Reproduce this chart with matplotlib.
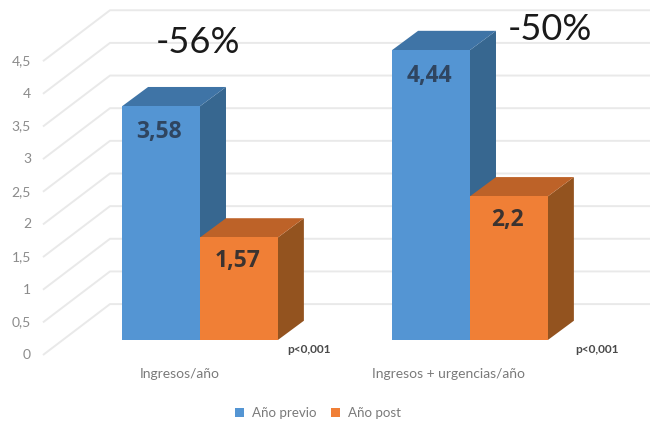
#!/usr/bin/env python3
# -*- coding: utf-8 -*-
import matplotlib
matplotlib.use('Agg')
import matplotlib.pyplot as plt
from matplotlib.patches import Polygon, Patch

plt.rcParams['font.family'] = ['Lato', 'DejaVu Sans']

# --- Data ---
categories = ['Ingresos/año', 'Ingresos + urgencias/año']
series_names = ['Año previo', 'Año post']
anio_previo = [3.58, 4.44]
anio_post = [1.57, 2.2]
value_labels = [['3,58', '4,44'], ['1,57', '2,2']]
changes = ['-56%', '-50%']
p_values = ['p<0,001', 'p<0,001']
y_ticks = [0, 0.5, 1, 1.5, 2, 2.5, 3, 3.5, 4, 4.5]
y_tick_labels = ['0', '0,5', '1', '1,5', '2', '2,5', '3', '3,5', '4', '4,5']

# --- Colours per series: front, top, side ---
colors = [('#5495d3', '#3f74a6', '#376790'),
          ('#f07f36', '#bd6228', '#93531f')]

# --- Fake 3D geometry (x: category units, y: value units) ---
bar_w = 0.2885
dx, dy = 0.0963, 0.295        # bar depth
wall_dy = 0.55                # back wall height above the bar floor
side_x0, side_x1 = -0.5815, -0.3333
side_y0 = -0.23

fig = plt.figure(figsize=(6.5, 4.22), dpi=100)
ax = fig.add_axes([0, 0, 1, 1])
ax.set_xlim(-0.7407, 1.6667)
ax.set_ylim(-1.256, 5.207)
ax.axis('off')

# --- Gridlines: slanted on the left wall, then flat along the back wall ---
for tick, label in zip(y_ticks, y_tick_labels):
    ax.plot([side_x0, side_x1, 1.6667],
            [tick + side_y0, tick + wall_dy, tick + wall_dy],
            color='#e9e9e9', lw=1.4, zorder=1, solid_capstyle='butt')
    ax.text(-0.626, tick + side_y0, label, ha='right', va='center',
            fontsize=10, color='#7f7f7f', alpha=0.9)

def draw_bar(x0, x1, h, cols, z):
    ax.add_patch(Polygon([(x1, 0), (x1 + dx, dy), (x1 + dx, h + dy), (x1, h)],
                         fc=cols[2], ec='none', zorder=z))
    ax.add_patch(Polygon([(x0, h), (x0 + dx, h + dy), (x1 + dx, h + dy), (x1, h)],
                         fc=cols[1], ec='none', zorder=z))
    ax.add_patch(Polygon([(x0, 0), (x1, 0), (x1, h), (x0, h)],
                         fc=cols[0], ec='none', zorder=z + 0.1))

for i in range(len(categories)):
    draw_bar(i - bar_w, i, anio_previo[i], colors[0], 2 + i)
    draw_bar(i, i + bar_w, anio_post[i], colors[1], 2.5 + i)
    ax.text(i - bar_w / 2 - 0.006, anio_previo[i] - 0.39, value_labels[0][i], ha='center',
            va='center', fontsize=16.5, fontweight='bold', color='#2f4560', zorder=6,
            family=['Open Sans', 'DejaVu Sans'])
    ax.text(i + bar_w / 2 - 0.006, anio_post[i] - 0.36, value_labels[1][i], ha='center',
            va='center', fontsize=16.5, fontweight='bold', color='#3b3330', zorder=6,
            family=['Open Sans', 'DejaVu Sans'])

# --- Category names and p values under the bars ---
ax.text(-0.0741, -0.52, categories[0], ha='center', va='center', fontsize=10, color='#7a7a7a')
ax.text(0.922, -0.52, categories[1], ha='center', va='center', fontsize=10, color='#7a7a7a')
ax.text(0.402, -0.14, p_values[0], ha='center', va='center', fontsize=8.6,
        fontweight='bold', color='#4a4a4a')
ax.text(1.469, -0.14, p_values[1], ha='center', va='center', fontsize=8.6,
        fontweight='bold', color='#4a4a4a')

# --- Percent change over each group ---
ax.text(-0.0074, 4.55, changes[0], ha='center', va='center', fontsize=26, color='#1a1a1a', zorder=7)
ax.text(1.2963, 4.75, changes[1], ha='center', va='center', fontsize=26, color='#1a1a1a', zorder=7)

# --- Legend ---
handles = [Patch(fc=colors[0][0], label=series_names[0]),
           Patch(fc=colors[1][0], label=series_names[1])]
leg = ax.legend(handles=handles, loc='center', bbox_to_anchor=(0.489, 0.021), ncol=2,
                frameon=False, fontsize=9.6, labelcolor='#7a7a7a', handlelength=0.7,
                handleheight=0.7, handletextpad=0.55, columnspacing=1.1)

plt.savefig('out.png', dpi=100)
plt.close(fig)
